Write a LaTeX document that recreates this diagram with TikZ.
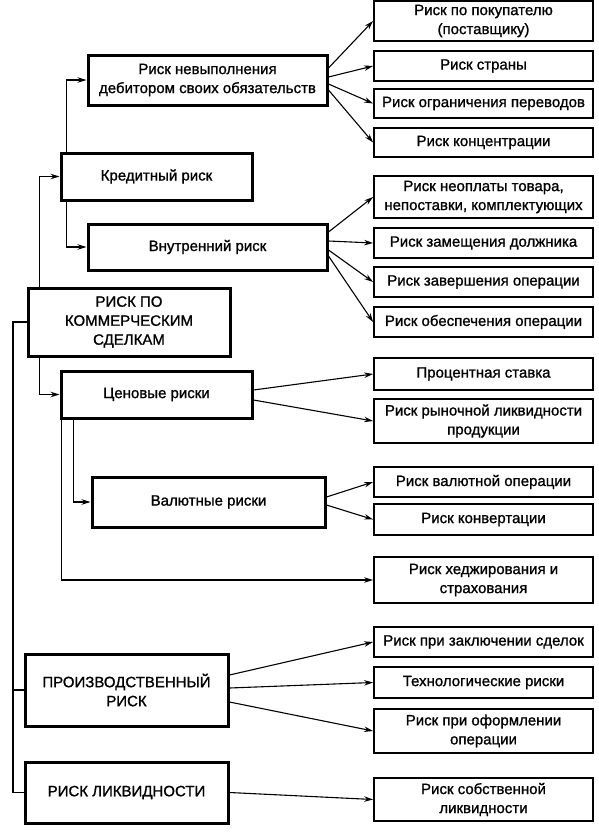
\documentclass[tikz,border=0pt]{standalone}
\usepackage{fontspec}
\setmainfont{Liberation Sans}
\newfontfamily\boxfont{Liberation Sans}[FakeBold=1.1]
\usetikzlibrary{arrows.meta,positioning}

\begin{document}
\begin{tikzpicture}[x=1pt,y=-1pt,
  main/.style={draw,line width=3pt,align=center,inner sep=2pt,font=\boxfont\fontsize{15}{19}\selectfont},
  sub/.style={draw,line width=1.8pt,align=center,inner sep=1pt,minimum width=219pt,font=\boxfont\fontsize{15}{19}\selectfont},
  arr/.style={-{Stealth[length=9pt,width=5.5pt]},line width=1.1pt},
  link/.style={line width=1.1pt}]
  \useasboundingbox (0,0) rectangle (599,835);
  % Left column
  \node[main,minimum width=239pt,minimum height=50pt] (nevyp) at (207.5,80) {Риск невыполнения\\дебитором своих обязательств};
  \node[main,minimum width=191pt,minimum height=47pt] (kred) at (156.5,176.5) {Кредитный риск};
  \node[main,minimum width=239pt,minimum height=46pt] (vnutr) at (207.5,247) {Внутренний риск};
  \node[main,minimum width=202pt,minimum height=68pt] (kommer) at (129,322) {РИСК ПО\\КОММЕРЧЕСКИМ\\СДЕЛКАМ};
  \node[main,minimum width=191pt,minimum height=47pt] (cen) at (156.5,394.5) {Ценовые риски};
  \node[main,minimum width=233pt,minimum height=50pt] (val) at (208.5,502) {Валютные риски};
  \node[main,minimum width=203pt,minimum height=72pt] (proizv) at (126.5,690) {ПРОИЗВОДСТВЕННЫЙ\\РИСК};
  \node[main,minimum width=203pt,minimum height=61pt] (likv) at (126.5,792.5) {РИСК ЛИКВИДНОСТИ};
  % Right column
  \node[sub,minimum height=40pt] (pokup) at (483.5,21) {Риск по покупателю\\(поставщику)};
  \node[sub,minimum height=30pt] (strany) at (483.5,66) {Риск страны};
  \node[sub,minimum height=29pt] (ogr) at (483.5,103.5) {Риск ограничения переводов};
  \node[sub,minimum height=29pt] (konc) at (483.5,142.5) {Риск концентрации};
  \node[sub,minimum height=42pt] (neopl) at (483.5,197) {Риск неоплаты товара,\\непоставки, комплектующих};
  \node[sub,minimum height=30pt] (zamesch) at (483.5,243) {Риск замещения должника};
  \node[sub,minimum height=30pt] (zaversh) at (483.5,282) {Риск завершения операции};
  \node[sub,minimum height=30pt] (obesp) at (483.5,322) {Риск обеспечения операции};
  \node[sub,minimum height=32pt] (proc) at (483.5,374) {Процентная ставка};
  \node[sub,minimum height=44pt] (rynoch) at (483.5,421) {Риск рыночной ликвидности\\продукции};
  \node[sub,minimum height=30pt] (valop) at (483.5,482) {Риск валютной операции};
  \node[sub,minimum height=31pt] (konv) at (483.5,519.5) {Риск конвертации};
  \node[sub,minimum height=46pt] (hedzh) at (483.5,580) {Риск хеджирования и\\страхования};
  \node[sub,minimum height=30pt] (zakl) at (483.5,642) {Риск при заключении сделок};
  \node[sub,minimum height=31pt] (tehn) at (483.5,682.5) {Технологические риски};
  \node[sub,minimum height=44pt] (oform) at (483.5,731) {Риск при оформлении\\операции};
  \node[sub,minimum height=43pt] (sobstv) at (483.5,799.5) {Риск собственной\\ликвидности};
  % Trunk on the left
  \coordinate (trunk) at (13,322);
  \draw[link] (kommer.west) -- (trunk) |- (proizv.west);
  \draw[link] (trunk) |- (likv.west);
  % Elbow arrows
  \draw[arr] ([xshift=13pt]kommer.north west) |- (kred.west);
  \draw[arr] ([xshift=13pt]kommer.south west) |- (cen.west);
  \draw[arr] ([xshift=7pt]kred.north west) |- (nevyp.west);
  \draw[arr] ([xshift=7pt]kred.south west) |- (vnutr.west);
  \draw[arr] ([xshift=14pt]cen.south west) |- (val.west);
  \draw[arr] ([xshift=2pt]cen.south west) |- (hedzh.west);
  % Fans
  \draw[arr] ([yshift=12pt]nevyp.east) -- (pokup.west);
  \draw[arr] ([yshift=3pt]nevyp.east) -- (strany.west);
  \draw[arr] ([yshift=-4pt]nevyp.east) -- (ogr.west);
  \draw[arr] ([yshift=-10pt]nevyp.east) -- (konc.west);
  \draw[arr] ([yshift=15pt]vnutr.east) -- (neopl.west);
  \draw[arr] ([yshift=6pt]vnutr.east) -- (zamesch.west);
  \draw[arr] ([yshift=-3pt]vnutr.east) -- (zaversh.west);
  \draw[arr] ([yshift=-9pt]vnutr.east) -- (obesp.west);
  \draw[arr] ([yshift=4.5pt]cen.east) -- (proc.west);
  \draw[arr] ([yshift=-5.5pt]cen.east) -- (rynoch.west);
  \draw[arr] ([yshift=5pt]val.east) -- (valop.west);
  \draw[arr] ([yshift=-3pt]val.east) -- (konv.west);
  \draw[arr] ([yshift=15pt]proizv.east) -- (zakl.west);
  \draw[arr] ([yshift=2pt]proizv.east) -- (tehn.west);
  \draw[arr] ([yshift=-12pt]proizv.east) -- (oform.west);
  \draw[arr] (likv.east) -- (sobstv.west);
\end{tikzpicture}
\end{document}
